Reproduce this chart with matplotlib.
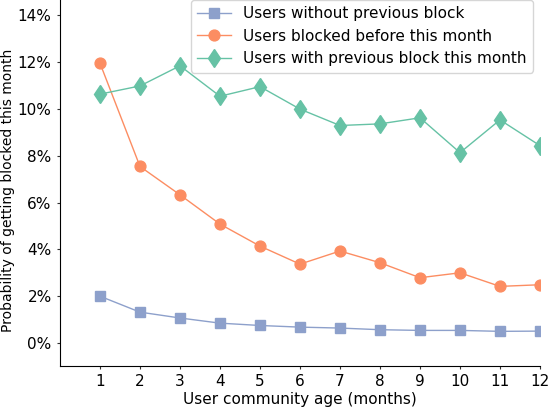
import matplotlib
matplotlib.use("Agg")
import matplotlib.pyplot as plt
from matplotlib.ticker import PercentFormatter

months = list(range(1, 13))
without_prev = [0.0200, 0.0132, 0.0107, 0.0085, 0.0075, 0.0068,
                0.0064, 0.0057, 0.0054, 0.0054, 0.0050, 0.0051]
blocked_before = [0.1195, 0.0754, 0.0633, 0.0508, 0.0414, 0.0337,
                  0.0393, 0.0343, 0.0279, 0.0300, 0.0242, 0.0249]
prev_this_month = [0.1063, 0.1098, 0.1184, 0.1054, 0.1095, 0.0999,
                   0.0929, 0.0936, 0.0962, 0.0813, 0.0953, 0.0843]

blue, orange, green = "#8da0cb", "#fc8d62", "#66c2a5"

fig = plt.figure(figsize=(5.48, 4.08), dpi=100)
ax = fig.add_axes([60 / 548, 1 - 366 / 408, 480 / 548, 366 / 408])

ax.plot(months, without_prev, marker="s", markersize=7.2, lw=1, color=blue,
        label="Users without previous block")
ax.plot(months, blocked_before, marker="o", markersize=7.8, lw=1, color=orange,
        label="Users blocked before this month")
ax.plot(months, prev_this_month, marker="d", markersize=9.5, lw=1, color=green,
        label="Users with previous block this month")

ax.set_xlim(0, 12)
ax.set_ylim(-0.0098, 0.1465)
ax.set_xticks(months)
ax.set_yticks([0, 0.02, 0.04, 0.06, 0.08, 0.10, 0.12, 0.14])
ax.yaxis.set_major_formatter(PercentFormatter(1.0, decimals=0))
ax.tick_params(length=2, width=0.8, labelsize=11, pad=4, color="#333333")
for side in ("top", "right"):
    ax.spines[side].set_visible(False)

ax.set_xlabel("User community age (months)", fontsize=11, labelpad=2)
ax.set_ylabel("Probability of getting blocked this month", fontsize=10)
ax.yaxis.set_label_coords(-0.093, 0.48)

ax.legend(loc="upper right", bbox_to_anchor=(0.985, 1.0), fontsize=11,
          borderaxespad=0, handlelength=2.2)

fig.savefig("out.png", dpi=100)
